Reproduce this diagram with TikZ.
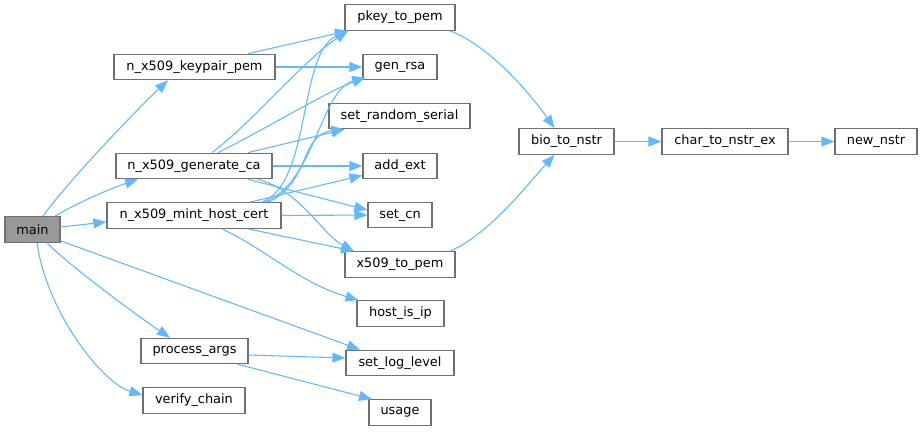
\documentclass[tikz,border=0pt]{standalone}
\usepackage{fontspec}
\setmainfont{DejaVu Sans}
\usetikzlibrary{arrows.meta}
\definecolor{edgeblue}{HTML}{63B8FF}
\definecolor{boxgray}{HTML}{707070}
\definecolor{mainfill}{HTML}{999999}
\begin{document}
\begin{tikzpicture}[x=1pt,y=1pt,
  fn/.style={draw=boxgray, fill=white, line width=1.2pt, inner sep=0pt, minimum height=25.5pt, font=\fontsize{12.9}{15}\selectfont, text=black},
  call/.style={draw=edgeblue, line width=1.1pt, -{Triangle[length=13pt,width=10pt]}}]
\useasboundingbox (0,0) rectangle (923,-431);
% nodes
\node[fn, fill=mainfill, minimum width=55pt] (main) at (32.5,-229.5) {main};
\node[fn, minimum width=161pt] (kp) at (194.5,-67) {n\_x509\_keypair\_pem};
\node[fn, minimum width=156pt] (ca) at (194,-166) {n\_x509\_generate\_ca};
\node[fn, minimum width=174pt] (mint) at (194,-215.5) {n\_x509\_mint\_host\_cert};
\node[fn, minimum width=107pt] (pa) at (194.5,-351) {process\_args};
\node[fn, minimum width=102pt] (vc) at (194,-400.5) {verify\_chain};
\node[fn, minimum width=110pt] (pkey) at (400,-17.5) {pkey\_to\_pem};
\node[fn, minimum width=74pt] (rsa) at (400,-67) {gen\_rsa};
\node[fn, minimum width=141pt] (srs) at (399.5,-116) {set\_random\_serial};
\node[fn, minimum width=74pt] (ext) at (400,-166) {add\_ext};
\node[fn, minimum width=64pt] (cn) at (400,-215) {set\_cn};
\node[fn, minimum width=110pt] (x509) at (400,-264.5) {x509\_to\_pem};
\node[fn, minimum width=87pt] (ip) at (400.5,-313.5) {host\_is\_ip};
\node[fn, minimum width=108pt] (log) at (400,-363) {set\_log\_level};
\node[fn, minimum width=62pt] (usage) at (400,-412.5) {usage};
\node[fn, minimum width=95pt] (bio) at (566.5,-141.5) {bio\_to\_nstr};
\node[fn, minimum width=126pt] (chr) at (725,-141.5) {char\_to\_nstr\_ex};
\node[fn, minimum width=82pt] (new) at (876,-141.5) {new\_nstr};
% edges from main
\draw[call] ([xshift=10.5pt]main.north) .. controls +(25,35) and +(-30,-28) .. ([xshift=-26.5pt]kp.south);
\draw[call] ([xshift=22.5pt]main.north) .. controls +(20,12) and +(-30,-10) .. ([xshift=-56pt]ca.south);
\draw[call] ([yshift=2.5pt]main.east) -- ([yshift=-6.5pt]mint.west);
\draw[call] ([xshift=14.5pt]main.south) .. controls +(25,-25) and +(-30,20) .. ([xshift=-24.5pt]pa.north);
\draw[call] ([xshift=4.5pt]main.south) .. controls +(10,-70) and +(-40,12) .. ([yshift=5.5pt]vc.west);
\draw[call] ([yshift=2pt]main.south east) -- ([xshift=-40pt]log.north);
% keypair
\draw[call] ([xshift=53.5pt]kp.north) -- ([xshift=-52pt]pkey.south);
\draw[call] (kp.east) -- (rsa.west);
% generate_ca
\draw[call] ([xshift=18pt]ca.north) .. controls +(40,30) and +(-45,-30) .. ([xshift=-52pt]pkey.south);
\draw[call] ([xshift=24pt]ca.north) .. controls +(50,25) and +(-40,-15) .. ([xshift=3pt,yshift=3pt]rsa.south west);
\draw[call] ([xshift=54pt]ca.north) -- ([xshift=-55pt]srs.south);
\draw[call] (ca.east) -- (ext.west);
\draw[call] ([xshift=54pt]ca.south) -- ([yshift=5pt]cn.west);
\draw[call] ([xshift=64pt]ca.south) .. controls +(42,-11) and +(-32,17) .. ([xshift=-46pt]x509.north);
% mint_host_cert
\draw[call] ([xshift=68pt]mint.north) .. controls +(50,20) and +(-50,-22) .. ([xshift=-52pt]pkey.south);
\draw[call] ([xshift=71pt]mint.north) .. controls +(50,20) and +(-45,-13) .. ([xshift=3pt,yshift=3pt]rsa.south west);
\draw[call] ([xshift=74pt]mint.north) .. controls +(42,18) and +(-45,-5) .. ([xshift=-55pt]srs.south);
\draw[call] ([xshift=56pt]mint.north) -- ([yshift=4pt]ext.south west);
\draw[call] (mint.east) -- (cn.west);
\draw[call] ([xshift=54pt]mint.south) -- ([xshift=-46pt]x509.north);
\draw[call] ([xshift=28pt]mint.south) .. controls +(43,-20) and +(-58,17) .. ([xshift=-42pt]ip.north);
% process_args
\draw[call] ([yshift=-4pt]pa.east) -- ([yshift=5pt]log.west);
\draw[call] ([xshift=43.5pt]pa.south) -- ([xshift=-28pt]usage.north);
% to bio
\draw[call] ([xshift=50pt]pkey.south) .. controls +(40,-15) and +(-24,34) .. ([xshift=-12pt]bio.north);
\draw[call] ([xshift=50pt]x509.north) .. controls +(40,17) and +(-24,-26) .. ([xshift=-12pt]bio.south);
\draw[call] (bio.east) -- (chr.west);
\draw[call] (chr.east) -- (new.west);
\end{tikzpicture}
\end{document}
